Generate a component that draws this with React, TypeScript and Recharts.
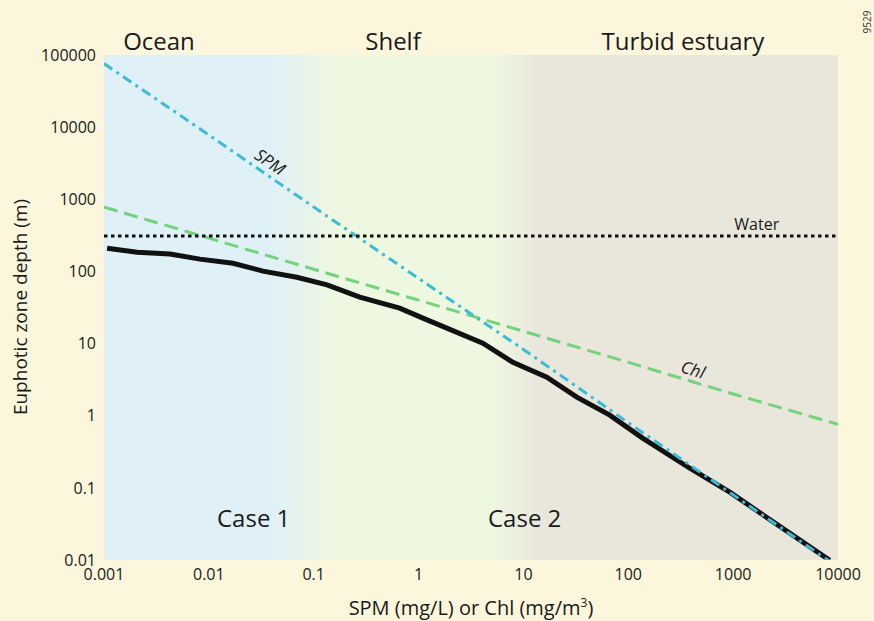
import { ComposedChart, Line, XAxis, YAxis, ReferenceArea, ReferenceDot } from "recharts";

const xTicks = [0.001, 0.01, 0.1, 1, 10, 100, 1000, 10000];
const yTicks = [0.01, 0.1, 1, 10, 100, 1000, 10000, 100000];

// total euphotic depth (thick black curve)
const totalX = [0.00107, 0.00207, 0.00426, 0.0082, 0.017, 0.0328, 0.069, 0.134, 0.275, 0.66, 1.1, 4.1, 7.93, 16.7, 32.3, 66.6, 137, 386, 929, 8340];
const totalY = [210, 185, 174, 148, 130, 101, 83, 65, 44, 31, 22.5, 10.1, 5.5, 3.42, 1.81, 1.02, 0.49, 0.187, 0.087, 0.0099];

// SPM-only limit
const spmX = [0.001, 0.01, 0.1, 1, 10, 100, 1000, 8300];
const spmY = [76000, 7800, 780, 80, 8.3, 0.8, 0.08, 0.0096];

// Chl-only limit
const chlX = [0.001, 0.01, 0.1, 1, 10, 100, 1000, 10000];
const chlY = [780, 290, 107, 40, 14.8, 5.5, 2.0, 0.76];

// pure water limit
const waterX = [0.001, 10000];
const waterY = [310, 310];

const toPoints = (xs: number[], ys: number[]) => xs.map((x, i) => ({ x, y: ys[i] }));

const FONT = "'Open Sans', sans-serif";
const INK = "#1a1a1a";

const rotatedLabel = (text: string, angle: number, lift: number, italic: boolean, size: number) => (p: any) => (
  <g transform={`translate(${p.cx},${p.cy}) rotate(${angle})`}>
    <text x={0} y={-lift} textAnchor="middle" fontFamily={FONT} fontSize={size} fontStyle={italic ? "italic" : "normal"} fill={INK}>
      {text}
    </text>
  </g>
);

export default function App() {
  const tickStyle = { fill: INK, fontSize: 16, fontFamily: FONT };
  return (
    <div style={{ position: "absolute", left: 0, top: 0, width: 874, height: 621, background: "#fcf7dc", fontFamily: FONT }}>
      <svg width={0} height={0} style={{ position: "absolute" }}>
        <defs>
          <linearGradient id="zoneGrad" x1="0" y1="0" x2="1" y2="0">
            <stop offset="0" stopColor="#dff0f7" />
            <stop offset="0.23" stopColor="#dff0f7" />
            <stop offset="0.317" stopColor="#eef7e0" />
            <stop offset="0.53" stopColor="#eef7e0" />
            <stop offset="0.595" stopColor="#e9e6dc" />
            <stop offset="1" stopColor="#e9e6dc" />
          </linearGradient>
        </defs>
      </svg>
      <ComposedChart width={874} height={621} margin={{ top: 55, right: 36, bottom: 0, left: 0 }}>
        <XAxis
          dataKey="x"
          type="number"
          scale="log"
          domain={[0.001, 10000]}
          ticks={xTicks}
          allowDataOverflow
          axisLine={false}
          tickLine={false}
          tickSize={0}
          tickMargin={9}
          height={61}
          tick={tickStyle}
          tickFormatter={(v: number) => String(v)}
        />
        <YAxis
          dataKey="y"
          type="number"
          scale="log"
          domain={[0.01, 100000]}
          ticks={yTicks}
          allowDataOverflow
          axisLine={false}
          tickLine={false}
          tickSize={0}
          tickMargin={8}
          width={104}
          tick={tickStyle}
          tickFormatter={(v: number) => String(v)}
        />
        <ReferenceArea x1={0.001} x2={10000} y1={0.01} y2={100000} fill="url(#zoneGrad)" fillOpacity={1} stroke="none" />
        <Line data={toPoints(totalX, totalY)} dataKey="y" type="linear" stroke="#111111" strokeWidth={5} dot={false} activeDot={false} isAnimationActive={false} />
        <Line data={toPoints(chlX, chlY)} dataKey="y" type="linear" stroke="#74d27d" strokeWidth={3} strokeDasharray="14 7" dot={false} activeDot={false} isAnimationActive={false} />
        <Line data={toPoints(spmX, spmY)} dataKey="y" type="linear" stroke="#3dbbd6" strokeWidth={3} strokeDasharray="10 5 3 5" dot={false} activeDot={false} isAnimationActive={false} />
        <Line data={toPoints(waterX, waterY)} dataKey="y" type="linear" stroke="#111111" strokeWidth={3} strokeDasharray="3.5 3.5" dot={false} activeDot={false} isAnimationActive={false} />
        <ReferenceDot x={0.033} y={2400} r={0} shape={rotatedLabel("SPM", 34.5, 6, true, 17)} />
        <ReferenceDot x={386} y={3.1} r={0} shape={rotatedLabel("Chl", 16.5, 5, true, 17)} />
        <ReferenceDot x={1680} y={310} r={0} shape={rotatedLabel("Water", 0, 6, false, 16)} />
      </ComposedChart>
      <svg width={874} height={621} style={{ position: "absolute", left: 0, top: 0, pointerEvents: "none" }}>
        <g fontFamily={FONT} fill={INK}>
          <text x={159} y={50} fontSize={24} textAnchor="middle">Ocean</text>
          <text x={393} y={50} fontSize={24} textAnchor="middle">Shelf</text>
          <text x={683} y={50} fontSize={24} textAnchor="middle">Turbid estuary</text>
          <text x={217} y={527} fontSize={24}>Case 1</text>
          <text x={488} y={527} fontSize={24}>Case 2</text>
          <text x={471} y={615} fontSize={20} textAnchor="middle">
            SPM (mg/L) or Chl (mg/m<tspan fontSize={12} dy={-8}>3</tspan><tspan dy={8}>)</tspan>
          </text>
          <text x={0} y={0} fontSize={19} textAnchor="middle" transform="translate(27,307) rotate(-90)">Euphotic zone depth (m)</text>
          <text x={0} y={0} fontSize={10} textAnchor="middle" fill="#333" transform="translate(871,22) rotate(-90)">9529</text>
        </g>
      </svg>
    </div>
  );
}
